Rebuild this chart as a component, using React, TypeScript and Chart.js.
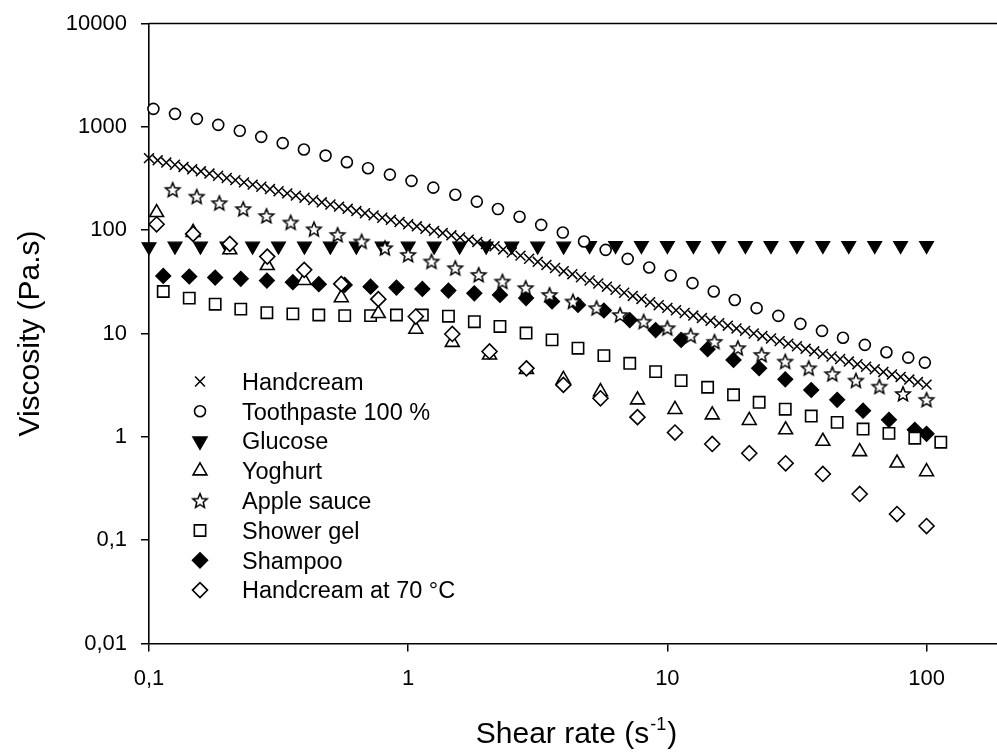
import React, { useEffect, useRef } from 'react';
import { Chart, registerables } from 'chart.js';

Chart.register(...registerables);

// ---------- data ----------
const SERIES_NAMES = ['Handcream', 'Toothpaste 100 %', 'Glucose', 'Yoghurt', 'Apple sauce', 'Shower gel', 'Shampoo', 'Handcream at 70 °C'];

const X_TICKS = [0.1, 1, 10, 100];
const X_TICK_LABELS = ['0,1', '1', '10', '100'];
const Y_TICKS = [0.01, 0.1, 1, 10, 100, 1000, 10000];
const Y_TICK_LABELS = ['0,01', '0,1', '1', '10', '100', '1000', '10000'];

const handcreamX = [
  0.1, 0.108, 0.1166, 0.1259, 0.1359, 0.1468, 0.1585, 0.1711, 0.1848, 0.1995,
  0.2154, 0.2326, 0.2512, 0.2712, 0.2929, 0.3162, 0.3415, 0.3687, 0.3981, 0.4299,
  0.4642, 0.5012, 0.5412, 0.5843, 0.631, 0.6813, 0.7356, 0.7943, 0.8577, 0.9261,
  1, 1.08, 1.166, 1.259, 1.359, 1.468, 1.585, 1.711, 1.848, 1.995,
  2.154, 2.326, 2.512, 2.712, 2.929, 3.162, 3.415, 3.687, 3.981, 4.299,
  4.642, 5.012, 5.412, 5.843, 6.31, 6.813, 7.356, 7.943, 8.577, 9.261,
  10, 10.8, 11.66, 12.59, 13.59, 14.68, 15.85, 17.11, 18.48, 19.95,
  21.54, 23.26, 25.12, 27.12, 29.29, 31.62, 34.15, 36.87, 39.81, 42.99,
  46.42, 50.12, 54.12, 58.43, 63.1, 68.13, 73.56, 79.43, 85.77, 92.61,
  100,
];
const handcreamY = [
  498, 474, 451, 430, 409, 389, 371, 353, 336, 320,
  305, 290, 276, 263, 250, 238, 227, 216, 206, 196,
  186, 177, 169, 161, 153, 146, 139, 132, 126, 120,
  114, 109, 103, 98.4, 93.7, 89.2, 84.9, 80.9, 77.0, 73.3,
  69.8, 65.1, 60.8, 56.7, 52.9, 49.4, 46.1, 43.0, 40.1, 37.5,
  35.0, 32.6, 30.5, 28.4, 26.5, 24.8, 23.1, 21.6, 20.1, 18.8,
  17.7, 16.8, 15.8, 14.9, 14.1, 13.3, 12.6, 11.9, 11.2, 10.6,
  10.0, 9.47, 8.94, 8.44, 7.98, 7.53, 7.11, 6.72, 6.35, 5.99,
  5.66, 5.35, 5.05, 4.77, 4.5, 4.25, 4.02, 3.8, 3.58, 3.39,
  3.2,
];

const toothpasteX = [
  0.104, 0.126, 0.153, 0.185, 0.224, 0.271, 0.328, 0.396, 0.48, 0.58,
  0.7, 0.85, 1.03, 1.25, 1.52, 1.84, 2.22, 2.69, 3.26, 3.95,
  4.77, 5.78, 7.03, 8.51, 10.3, 12.5, 15.1, 18.2, 22.1, 26.8,
  32.6, 39.5, 47.6, 57.8, 70, 85, 98.5,
];
const toothpasteY = [
  1493, 1336, 1195, 1045, 915, 800, 695, 603, 527, 455,
  398, 345, 300, 258, 220, 189, 160, 135, 112.5, 94.8,
  77.6, 64.5, 52.7, 43.5, 36.4, 30.7, 25.5, 21.1, 17.6, 14.8,
  12.4, 10.6, 9.1, 7.76, 6.59, 5.84, 5.23,
];

const glucoseX = [
  0.1, 0.126, 0.158, 0.2, 0.251, 0.316, 0.398, 0.501, 0.631, 0.794,
  1, 1.26, 1.58, 2, 2.51, 3.16, 3.98, 5.01, 6.31, 7.94,
  10, 12.6, 15.8, 20, 25.1, 31.6, 39.8, 50.1, 63.1, 79.4,
  100,
];
const glucoseY = [
  69, 70, 70, 70, 70, 70, 70, 70, 70, 70,
  70, 70, 70, 70, 70, 70, 70, 71, 71, 71,
  71, 71, 71, 71, 71, 71, 71, 71, 71, 71,
  71,
];

const yoghurtX = [
  0.107, 0.148, 0.205, 0.286, 0.397, 0.552, 0.767, 1.07, 1.48, 2.06,
  2.86, 3.97, 5.52, 7.67, 10.7, 14.9, 20.7, 28.6, 39.8, 55.2,
  76.9, 100,
];
const yoghurtY = [
  148, 95, 64.6, 45.5, 32.6, 22.2, 15.6, 11, 8.2, 6.2,
  4.5, 3.6, 2.74, 2.28, 1.84, 1.63, 1.44, 1.17, 0.906, 0.719,
  0.558, 0.46,
];

const appleX = [
  0.1234, 0.1528, 0.1868, 0.231, 0.284, 0.352, 0.433, 0.534, 0.661, 0.813,
  1.0, 1.23, 1.52, 1.87, 2.31, 2.84, 3.51, 4.32, 5.33, 6.57,
  8.1, 10, 12.3, 15.2, 18.7, 23.1, 28.5, 35.1, 43.3, 53.4,
  65.8, 81.1, 100,
];
const appleY = [
  245.5, 211, 182.5, 160, 137, 118.5, 102, 90, 77.6, 67,
  57.6, 49.7, 42.9, 36.9, 31.8, 27.5, 23.6, 20.4, 17.6, 15.1,
  13.0, 11.25, 9.5, 8.3, 7.21, 6.21, 5.35, 4.61, 4.05, 3.5,
  3.06, 2.6, 2.28,
];

const showerX = [
  0.1135, 0.143, 0.18, 0.226, 0.285, 0.359, 0.452, 0.569, 0.716, 0.901,
  1.134, 1.43, 1.8, 2.26, 2.85, 3.59, 4.52, 5.69, 7.16, 9.01,
  11.3, 14.3, 18, 22.6, 28.5, 35.9, 45.2, 56.9, 71.6, 90.1,
  113.5,
];
const showerY = [
  25.5, 22, 19.2, 17.2, 15.9, 15.5, 15.1, 14.9, 14.9, 15.1,
  15.1, 14.7, 13.0, 11.7, 10.1, 8.67, 7.21, 6.11, 5.15, 4.28,
  3.5, 3.02, 2.55, 2.16, 1.85, 1.59, 1.38, 1.19, 1.08, 0.97,
  0.887,
];

const shampooX = [
  0.1135, 0.143, 0.18, 0.226, 0.285, 0.359, 0.452, 0.569, 0.716, 0.901,
  1.134, 1.43, 1.8, 2.26, 2.85, 3.59, 4.52, 5.69, 7.16, 9.01,
  11.3, 14.3, 18, 22.6, 28.5, 35.9, 45.2, 56.9, 71.6, 90.1,
  100,
];
const shampooY = [
  36.1, 35.6, 34.8, 33.8, 32.5, 31.4, 30, 29.5, 28.4, 27.8,
  27, 26, 24.5, 23.6, 22, 20.4, 18.9, 16.7, 13.5, 10.8,
  8.67, 7.05, 5.55, 4.61, 3.6, 2.84, 2.28, 1.79, 1.46, 1.17,
  1.07,
];

const handcream70X = [
  0.107, 0.148, 0.205, 0.286, 0.397, 0.552, 0.767, 1.07, 1.48, 2.06,
  2.86, 3.97, 5.52, 7.67, 10.7, 14.9, 20.7, 28.6, 39.8, 55.2,
  76.9, 100,
];
const handcream70Y = [
  114, 92, 73.7, 55.5, 41.3, 30.2, 21.5, 14.6, 9.9, 6.7,
  4.6, 3.18, 2.36, 1.55, 1.1, 0.853, 0.694, 0.555, 0.437, 0.28,
  0.179, 0.137,
];

// ---------- styling ----------
const FONT = '"Liberation Sans", Arial, Helvetica, sans-serif';
const INK = '#000000';

type MarkerKind = 'cross' | 'circle' | 'triDown' | 'triUp' | 'star' | 'square' | 'diamondFill' | 'diamond';
const MARKERS: MarkerKind[] = ['cross', 'circle', 'triDown', 'triUp', 'star', 'square', 'diamondFill', 'diamond'];

function starPath(ctx: CanvasRenderingContext2D, cx: number, cy: number, R: number, r: number) {
  ctx.beginPath();
  for (let i = 0; i < 10; i++) {
    const ang = -Math.PI / 2 + (i * Math.PI) / 5;
    const rad = i % 2 === 0 ? R : r;
    const px = cx + Math.cos(ang) * rad;
    const py = cy + Math.sin(ang) * rad;
    if (i === 0) ctx.moveTo(px, py);
    else ctx.lineTo(px, py);
  }
  ctx.closePath();
}

function makeStarCanvas(): HTMLCanvasElement {
  const c = document.createElement('canvas');
  c.width = 20;
  c.height = 20;
  const ctx = c.getContext('2d')!;
  starPath(ctx, 10, 10.5, 7.6, 3.4);
  ctx.fillStyle = '#ffffff';
  ctx.fill();
  ctx.lineWidth = 1.5;
  ctx.lineJoin = 'miter';
  ctx.strokeStyle = INK;
  ctx.stroke();
  return c;
}

function drawMarker(ctx: CanvasRenderingContext2D, kind: MarkerKind, x: number, y: number, star: HTMLCanvasElement) {
  ctx.save();
  ctx.strokeStyle = INK;
  ctx.lineWidth = 1.6;
  switch (kind) {
    case 'cross': {
      const d = 7 * Math.SQRT1_2;
      ctx.lineWidth = 1.5;
      ctx.beginPath();
      ctx.moveTo(x - d, y - d);
      ctx.lineTo(x + d, y + d);
      ctx.moveTo(x + d, y - d);
      ctx.lineTo(x - d, y + d);
      ctx.stroke();
      break;
    }
    case 'circle': {
      ctx.beginPath();
      ctx.arc(x, y, 5.5, 0, Math.PI * 2);
      ctx.fillStyle = '#fff';
      ctx.fill();
      ctx.stroke();
      break;
    }
    case 'triDown':
    case 'triUp': {
      const r = 8;
      const s = kind === 'triDown' ? -1 : 1;
      ctx.beginPath();
      ctx.moveTo(x, y - s * r);
      ctx.lineTo(x + r * Math.sin((2 * Math.PI) / 3), y + (s * r) / 2);
      ctx.lineTo(x - r * Math.sin((2 * Math.PI) / 3), y + (s * r) / 2);
      ctx.closePath();
      ctx.fillStyle = kind === 'triDown' ? INK : '#fff';
      ctx.fill();
      ctx.stroke();
      break;
    }
    case 'star': {
      ctx.drawImage(star, x - star.width / 2, y - star.height / 2);
      break;
    }
    case 'square': {
      const s = 8 * Math.SQRT1_2;
      ctx.beginPath();
      ctx.rect(x - s, y - s, 2 * s, 2 * s);
      ctx.fillStyle = '#fff';
      ctx.fill();
      ctx.stroke();
      break;
    }
    case 'diamondFill':
    case 'diamond': {
      const r = 7.5;
      ctx.beginPath();
      ctx.moveTo(x, y - r);
      ctx.lineTo(x + r, y);
      ctx.lineTo(x, y + r);
      ctx.lineTo(x - r, y);
      ctx.closePath();
      ctx.fillStyle = kind === 'diamondFill' ? INK : '#fff';
      ctx.fill();
      ctx.stroke();
      break;
    }
  }
  ctx.restore();
}

function toPoints(xs: number[], ys: number[]) {
  return xs.map((x, i) => ({ x, y: ys[i] }));
}

function labelFrom(ticks: number[], labels: string[], v: number): string {
  for (let i = 0; i < ticks.length; i++) {
    if (Math.abs(Math.log10(v) - Math.log10(ticks[i])) < 1e-6) return labels[i];
  }
  return '';
}

export default function App() {
  const canvasRef = useRef<HTMLCanvasElement | null>(null);

  useEffect(() => {
    document.body.style.margin = '0';
    const canvas = canvasRef.current;
    if (!canvas) return;
    const star = makeStarCanvas();

    const base = {
      showLine: false,
      borderColor: INK,
      pointBorderColor: INK,
      clip: false as const,
    };

    const datasets: any[] = [
      { ...base, label: SERIES_NAMES[0], data: toPoints(handcreamX, handcreamY), pointStyle: 'crossRot', pointRadius: 7, pointBorderWidth: 1.5, pointBackgroundColor: INK, order: 4 },
      { ...base, label: SERIES_NAMES[1], data: toPoints(toothpasteX, toothpasteY), pointStyle: 'circle', pointRadius: 5.5, pointBorderWidth: 1.6, pointBackgroundColor: '#fff', order: 3 },
      { ...base, label: SERIES_NAMES[2], data: toPoints(glucoseX, glucoseY), pointStyle: 'triangle', pointRotation: 180, pointRadius: 8, pointBorderWidth: 1.2, pointBackgroundColor: INK, order: 7 },
      { ...base, label: SERIES_NAMES[3], data: toPoints(yoghurtX, yoghurtY), pointStyle: 'triangle', pointRadius: 8, pointBorderWidth: 1.6, pointBackgroundColor: '#fff', order: 2 },
      { ...base, label: SERIES_NAMES[4], data: toPoints(appleX, appleY), pointStyle: star, pointRadius: 8, pointBorderWidth: 0, order: 1 },
      { ...base, label: SERIES_NAMES[5], data: toPoints(showerX, showerY), pointStyle: 'rect', pointRadius: 8, pointBorderWidth: 1.6, pointBackgroundColor: '#fff', order: 5 },
      { ...base, label: SERIES_NAMES[6], data: toPoints(shampooX, shampooY), pointStyle: 'rectRot', pointRadius: 7.5, pointBorderWidth: 1.2, pointBackgroundColor: INK, order: 6 },
      { ...base, label: SERIES_NAMES[7], data: toPoints(handcream70X, handcream70Y), pointStyle: 'rectRot', pointRadius: 7.5, pointBorderWidth: 1.6, pointBackgroundColor: '#fff', order: 0 },
    ];

    const framePlugin = {
      id: 'frameLegendTitles',
      afterDraw(chart: any) {
        const ctx: CanvasRenderingContext2D = chart.ctx;
        const ca = chart.chartArea;
        ctx.save();
        // top frame line
        ctx.strokeStyle = INK;
        ctx.lineWidth = 1.6;
        ctx.beginPath();
        ctx.moveTo(ca.left, ca.top);
        ctx.lineTo(ca.right, ca.top);
        ctx.stroke();

        // legend
        const symX = ca.left + 51;
        const textX = ca.left + 93;
        const rowY0 = ca.top + 358;
        const rowH = 29.8;
        ctx.fillStyle = INK;
        ctx.textAlign = 'left';
        ctx.textBaseline = 'alphabetic';
        SERIES_NAMES.forEach((name, i) => {
          const cy = rowY0 + i * rowH;
          drawMarker(ctx, MARKERS[i], symX, cy, star);
          ctx.fillStyle = INK;
          ctx.font = `23.5px ${FONT}`;
          ctx.fillText(name, textX, cy + 8.3);
        });

        // x axis title with superscript
        const big = `30px ${FONT}`;
        const small = `18px ${FONT}`;
        const main = 'Shear rate (s';
        const sup = '-1';
        const close = ')';
        ctx.font = big;
        const w1 = ctx.measureText(main).width;
        const w3 = ctx.measureText(close).width;
        ctx.font = small;
        const w2 = ctx.measureText(sup).width;
        const cx = (ca.left + ca.right) / 2 + 4;
        const x0 = cx - (w1 + w2 + w3 + 3) / 2;
        const baseY = 743;
        ctx.textAlign = 'left';
        ctx.font = big;
        ctx.fillText(main, x0, baseY);
        ctx.font = small;
        ctx.fillText(sup, x0 + w1 + 1, baseY - 13);
        ctx.font = big;
        ctx.fillText(close, x0 + w1 + w2 + 2, baseY);

        // y axis title
        ctx.save();
        ctx.translate(39, (ca.top + ca.bottom) / 2);
        ctx.rotate(-Math.PI / 2);
        ctx.textAlign = 'center';
        ctx.font = `30px ${FONT}`;
        ctx.fillText('Viscosity (Pa.s)', 0, 0);
        ctx.restore();

        ctx.restore();
      },
    };

    const tickFont = { family: FONT, size: 22 };

    const chart = new Chart(canvas, {
      type: 'scatter',
      data: { datasets },
      options: {
        animation: false,
        responsive: false,
        maintainAspectRatio: false,
        events: [],
        layout: { autoPadding: false, padding: { top: 23.5, right: 0, left: 0, bottom: 0 } },
        plugins: {
          legend: { display: false },
          tooltip: { enabled: false },
          title: { display: false },
        },
        scales: {
          x: {
            type: 'logarithmic',
            position: 'bottom',
            min: 0.1,
            max: 187,
            afterBuildTicks: (s: any) => {
              s.ticks = X_TICKS.map((v) => ({ value: v }));
            },
            afterFit: (s: any) => {
              s.height = 108.5;
              s.paddingLeft = 0;
              s.paddingRight = 0;
            },
            ticks: {
              autoSkip: false,
              maxRotation: 0,
              minRotation: 0,
              padding: 14,
              color: INK,
              font: tickFont,
              callback: (v: any) => labelFrom(X_TICKS, X_TICK_LABELS, Number(v)),
            },
            grid: {
              drawOnChartArea: false,
              drawTicks: true,
              tickLength: 8,
              tickWidth: 1.5,
              tickColor: INK,
              color: INK,
              lineWidth: 1.5,
            },
            border: { display: true, color: INK, width: 1.6 },
            title: { display: false },
          },
          y: {
            type: 'logarithmic',
            position: 'left',
            min: 0.01,
            max: 10000,
            afterBuildTicks: (s: any) => {
              s.ticks = Y_TICKS.map((v) => ({ value: v }));
            },
            afterFit: (s: any) => {
              s.width = 149;
              s.paddingTop = 0;
              s.paddingBottom = 0;
            },
            ticks: {
              autoSkip: false,
              padding: 14,
              color: INK,
              font: tickFont,
              callback: (v: any) => labelFrom(Y_TICKS, Y_TICK_LABELS, Number(v)),
            },
            grid: {
              drawOnChartArea: false,
              drawTicks: true,
              tickLength: 8,
              tickWidth: 1.5,
              tickColor: INK,
              color: INK,
              lineWidth: 1.5,
            },
            border: { display: true, color: INK, width: 1.6 },
            title: { display: false },
          },
        },
      } as any,
      plugins: [framePlugin],
    });

    return () => {
      chart.destroy();
    };
  }, []);

  return (
    <div style={{ width: 997, height: 752, position: 'relative', overflow: 'hidden', background: '#fff' }}>
      <canvas ref={canvasRef} width={997} height={752} style={{ display: 'block', width: 997, height: 752 }} />
    </div>
  );
}
